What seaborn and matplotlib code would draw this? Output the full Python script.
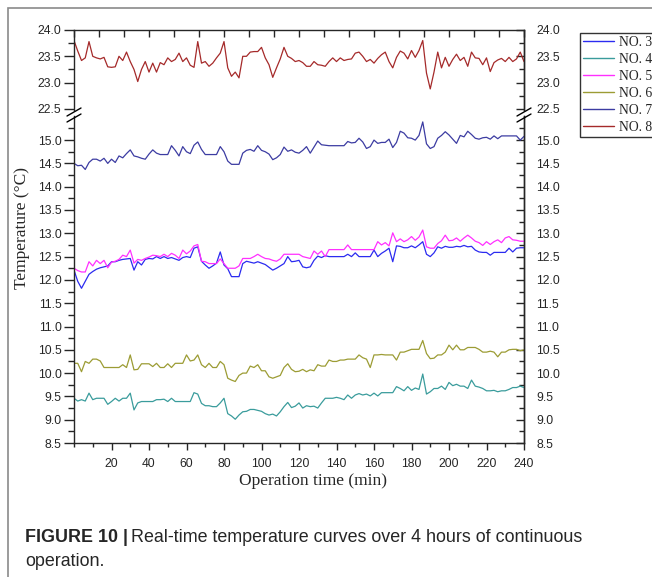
import numpy as np
import pandas as pd
import matplotlib
matplotlib.use('Agg')
import matplotlib.pyplot as plt
import matplotlib.patches as mpatches
from matplotlib.lines import Line2D
from matplotlib.ticker import MultipleLocator, FixedLocator, FormatStrFormatter
import seaborn as sns

# time axis, one reading every 2 min
time_min = np.arange(0, 241, 2)

no3 = [12.21, 11.97, 11.82, 11.97, 12.12, 12.18, 12.23, 12.26, 12.28, 12.30,
       12.39, 12.39, 12.42, 12.44, 12.45, 12.46, 12.21, 12.39, 12.32, 12.44,
       12.46, 12.45, 12.50, 12.46, 12.50, 12.46, 12.48, 12.45, 12.42, 12.48,
       12.50, 12.48, 12.68, 12.71, 12.40, 12.32, 12.25, 12.30, 12.36, 12.60,
       12.32, 12.24, 12.07, 12.07, 12.07, 12.35, 12.40, 12.38, 12.36, 12.39,
       12.36, 12.33, 12.27, 12.21, 12.25, 12.30, 12.35, 12.50, 12.39, 12.40,
       12.42, 12.28, 12.26, 12.28, 12.42, 12.51, 12.48, 12.52, 12.50, 12.50,
       12.50, 12.50, 12.50, 12.55, 12.50, 12.58, 12.50, 12.50, 12.50, 12.50,
       12.64, 12.50, 12.57, 12.62, 12.68, 12.39, 12.73, 12.72, 12.69, 12.69,
       12.73, 12.69, 12.75, 12.82, 12.55, 12.50, 12.58, 12.71, 12.68, 12.72,
       12.70, 12.70, 12.72, 12.71, 12.74, 12.71, 12.72, 12.64, 12.60, 12.59,
       12.59, 12.53, 12.59, 12.59, 12.59, 12.59, 12.68, 12.60, 12.68, 12.69,
       12.69]
no4 = [9.46, 9.40, 9.43, 9.40, 9.57, 9.43, 9.46, 9.46, 9.46, 9.33,
       9.39, 9.46, 9.40, 9.46, 9.46, 9.57, 9.21, 9.36, 9.39, 9.39,
       9.39, 9.39, 9.43, 9.43, 9.44, 9.39, 9.46, 9.39, 9.39, 9.39,
       9.39, 9.39, 9.58, 9.55, 9.35, 9.30, 9.30, 9.28, 9.28, 9.36,
       9.46, 9.13, 9.08, 9.01, 9.10, 9.17, 9.18, 9.22, 9.22, 9.20,
       9.18, 9.13, 9.10, 9.12, 9.08, 9.17, 9.28, 9.37, 9.26, 9.29,
       9.36, 9.25, 9.30, 9.28, 9.29, 9.25, 9.36, 9.46, 9.46, 9.46,
       9.48, 9.46, 9.43, 9.53, 9.46, 9.53, 9.56, 9.53, 9.55, 9.51,
       9.57, 9.51, 9.58, 9.58, 9.58, 9.58, 9.71, 9.67, 9.62, 9.71,
       9.63, 9.68, 9.65, 9.98, 9.55, 9.60, 9.67, 9.67, 9.72, 9.65,
       9.80, 9.73, 9.76, 9.72, 9.72, 9.67, 9.85, 9.72, 9.70, 9.67,
       9.62, 9.62, 9.63, 9.60, 9.62, 9.62, 9.65, 9.69, 9.69, 9.72,
       9.69]
no5 = [12.25, 12.20, 12.17, 12.17, 12.39, 12.30, 12.42, 12.35, 12.42, 12.26,
       12.38, 12.40, 12.44, 12.53, 12.50, 12.64, 12.36, 12.44, 12.42, 12.46,
       12.49, 12.53, 12.52, 12.50, 12.55, 12.50, 12.57, 12.53, 12.46, 12.64,
       12.56, 12.62, 12.73, 12.76, 12.40, 12.39, 12.35, 12.35, 12.35, 12.45,
       12.35, 12.25, 12.25, 12.25, 12.30, 12.46, 12.46, 12.46, 12.50, 12.55,
       12.50, 12.46, 12.45, 12.42, 12.40, 12.45, 12.55, 12.55, 12.55, 12.55,
       12.55, 12.50, 12.48, 12.46, 12.62, 12.55, 12.62, 12.50, 12.65, 12.65,
       12.65, 12.65, 12.65, 12.75, 12.65, 12.65, 12.65, 12.65, 12.65, 12.65,
       12.65, 12.82, 12.75, 12.80, 12.73, 13.01, 12.82, 12.88, 12.82, 12.86,
       12.93, 12.85, 12.92, 13.07, 12.71, 12.68, 12.68, 12.78, 12.84, 12.96,
       12.84, 12.85, 12.90, 12.83, 12.90, 12.96, 12.90, 12.83, 12.80, 12.74,
       12.82, 12.76, 12.82, 12.86, 12.80, 12.90, 12.93, 12.86, 12.85, 12.83,
       12.83]
no6 = [10.21, 10.21, 10.03, 10.25, 10.21, 10.30, 10.30, 10.26, 10.12, 10.12,
       10.12, 10.12, 10.12, 10.18, 10.12, 10.39, 10.07, 10.08, 10.20, 10.20,
       10.20, 10.14, 10.21, 10.12, 10.12, 10.20, 10.12, 10.21, 10.21, 10.21,
       10.39, 10.26, 10.28, 10.39, 10.18, 10.12, 10.21, 10.12, 10.12, 10.25,
       10.18, 9.89, 9.85, 9.82, 9.95, 10.00, 10.00, 10.15, 10.12, 10.18,
       10.05, 10.05, 9.92, 9.89, 9.92, 9.95, 10.12, 10.20, 10.08, 10.03,
       10.04, 10.08, 10.03, 10.07, 10.05, 10.18, 10.15, 10.15, 10.28, 10.25,
       10.25, 10.28, 10.28, 10.30, 10.30, 10.30, 10.39, 10.33, 10.30, 10.12,
       10.39, 10.39, 10.40, 10.39, 10.39, 10.39, 10.28, 10.45, 10.45, 10.48,
       10.51, 10.51, 10.51, 10.70, 10.42, 10.31, 10.32, 10.39, 10.39, 10.45,
       10.60, 10.50, 10.60, 10.50, 10.50, 10.55, 10.55, 10.55, 10.51, 10.45,
       10.45, 10.47, 10.45, 10.35, 10.45, 10.45, 10.50, 10.51, 10.51, 10.48,
       10.50]
no7 = [14.50, 14.45, 14.46, 14.37, 14.52, 14.59, 14.59, 14.55, 14.61, 14.50,
       14.59, 14.52, 14.66, 14.62, 14.71, 14.79, 14.66, 14.64, 14.61, 14.59,
       14.70, 14.79, 14.72, 14.69, 14.69, 14.69, 14.88, 14.78, 14.66, 14.86,
       14.75, 14.71, 14.89, 14.96, 14.80, 14.69, 14.69, 14.69, 14.69, 14.86,
       14.75, 14.55, 14.48, 14.48, 14.48, 14.72, 14.78, 14.80, 14.76, 14.88,
       14.78, 14.75, 14.70, 14.58, 14.62, 14.69, 14.85, 14.76, 14.79, 14.74,
       14.72, 14.78, 14.86, 14.72, 14.85, 14.98, 14.90, 14.89, 14.88, 14.88,
       14.88, 14.88, 14.88, 14.97, 14.94, 14.95, 15.04, 14.96, 14.82, 14.86,
       15.00, 14.93, 14.95, 14.95, 15.02, 14.84, 14.95, 15.19, 15.15, 15.05,
       15.04, 15.00, 15.10, 15.39, 14.92, 14.82, 14.86, 15.04, 15.10, 15.18,
       15.11, 15.02, 14.93, 15.10, 15.07, 15.19, 15.12, 15.04, 15.02, 15.05,
       15.06, 15.02, 15.09, 15.03, 15.09, 15.09, 15.09, 15.09, 15.09, 15.00,
       15.08]
no8 = [23.80, 23.60, 23.42, 23.47, 23.78, 23.50, 23.47, 23.45, 23.48, 23.30,
       23.29, 23.30, 23.50, 23.42, 23.58, 23.40, 23.25, 23.02, 23.25, 23.40,
       23.20, 23.37, 23.20, 23.38, 23.34, 23.47, 23.40, 23.44, 23.56, 23.40,
       23.47, 23.33, 23.29, 23.78, 23.37, 23.40, 23.31, 23.37, 23.47, 23.56,
       23.78, 23.28, 23.12, 23.20, 23.09, 23.50, 23.50, 23.58, 23.59, 23.59,
       23.67, 23.47, 23.34, 23.10, 23.28, 23.45, 23.67, 23.50, 23.46, 23.40,
       23.42, 23.38, 23.31, 23.31, 23.40, 23.34, 23.33, 23.31, 23.40, 23.47,
       23.40, 23.47, 23.42, 23.44, 23.45, 23.56, 23.58, 23.50, 23.40, 23.44,
       23.37, 23.46, 23.53, 23.58, 23.40, 23.28, 23.48, 23.60, 23.56, 23.45,
       23.61, 23.48, 23.61, 23.80, 23.18, 22.88, 23.20, 23.58, 23.28, 23.48,
       23.31, 23.44, 23.54, 23.42, 23.48, 23.31, 23.58, 23.47, 23.46, 23.34,
       23.47, 23.21, 23.38, 23.43, 23.46, 23.40, 23.48, 23.40, 23.45, 23.58,
       23.40]

series_names = ['NO. 3', 'NO. 4', 'NO. 5', 'NO. 6', 'NO. 7', 'NO. 8']
series_values = [no3, no4, no5, no6, no7, no8]
colors = {'NO. 3': '#2b2bf0', 'NO. 4': '#3a9c9c', 'NO. 5': '#ff30ff',
          'NO. 6': '#9c9c34', 'NO. 7': '#3c3ca2', 'NO. 8': '#a52a2a'}

top_ticks = [22.5, 23.0, 23.5, 24.0]
bot_ticks = [8.5, 9.0, 9.5, 10.0, 10.5, 11.0, 11.5, 12.0, 12.5, 13.0, 13.5, 14.0, 14.5, 15.0]
x_ticks = [20, 40, 60, 80, 100, 120, 140, 160, 180, 200, 220, 240]

df = pd.concat([pd.DataFrame({'time': time_min, 'temp': v, 'sensor': n})
                for n, v in zip(series_names, series_values)], ignore_index=True)

sns.set_style('ticks')
plt.rcParams['font.family'] = ['Liberation Sans', 'DejaVu Sans']
plt.rcParams['axes.linewidth'] = 1.0

W, H = 652, 577
fig = plt.figure(figsize=(W / 100, H / 100), dpi=100)
fig.patch.set_facecolor('white')

def fx(px):
    return px / W

def fy(py):
    return 1 - py / H

x0, x1 = 74, 524
ax_top = fig.add_axes([fx(x0), fy(110), fx(x1 - x0), (110 - 30) / H])
ax_bot = fig.add_axes([fx(x0), fy(443), fx(x1 - x0), (443 - 116) / H])

top_df = df[df['sensor'] == 'NO. 8']
bot_df = df[df['sensor'] != 'NO. 8']
sns.lineplot(data=top_df, x='time', y='temp', hue='sensor', palette=colors,
             ax=ax_top, legend=False, linewidth=0.9)
sns.lineplot(data=bot_df, x='time', y='temp', hue='sensor', palette=colors,
             hue_order=series_names[:5], ax=ax_bot, legend=False, linewidth=0.9)


def style_y(ax, major):
    minor = [m + 0.25 for m in major]
    ax.yaxis.set_major_locator(FixedLocator(major))
    ax.yaxis.set_minor_locator(FixedLocator(minor))
    ax.yaxis.set_major_formatter(FormatStrFormatter('%.1f'))
    ax.tick_params(axis='y', which='major', direction='out', length=7, width=1,
                   labelsize=8.7, pad=2, right=False)
    ax.tick_params(axis='y', which='minor', direction='out', length=4, width=1, right=False)
    sec = ax.secondary_yaxis('right')
    sec.yaxis.set_major_locator(FixedLocator(major))
    sec.yaxis.set_minor_locator(FixedLocator(minor))
    sec.yaxis.set_major_formatter(FormatStrFormatter('%.1f'))
    sec.tick_params(axis='y', which='major', direction='in', length=6, width=1,
                    labelsize=8.7, pad=9)
    sec.tick_params(axis='y', which='minor', direction='in', length=3.5, width=1)


for ax in (ax_top, ax_bot):
    ax.set_xlim(0, 240)
    ax.set_xlabel('')
    ax.set_ylabel('')

style_y(ax_top, top_ticks)
style_y(ax_bot, bot_ticks)
ax_top.set_ylim(24 - 80 / 52.6, 24.0)
ax_bot.set_ylim(8.5, 8.5 + 327 / 46.6)

ax_top.spines['bottom'].set_visible(False)
ax_top.set_xticks(np.linspace(0, 240, 19))
ax_top.tick_params(axis='x', which='both', bottom=False, top=True, labelbottom=False,
                   direction='in', length=5, width=1)
ax_top.xaxis.set_minor_locator(matplotlib.ticker.NullLocator())

ax_bot.spines['top'].set_visible(False)
ax_bot.set_xticks(x_ticks)
ax_bot.xaxis.set_minor_locator(MultipleLocator(10))
ax_bot.tick_params(axis='x', which='major', direction='out', length=5, width=1,
                   labelsize=8.7, pad=6, top=False)
ax_bot.tick_params(axis='x', which='minor', direction='out', length=3, width=1, top=False)

# break marks on both spines
for xp in (x0, x1):
    for dy in (0, 6):
        fig.add_artist(Line2D([fx(xp - 7), fx(xp + 7)], [fy(116 + dy), fy(108 + dy)],
                              color='black', lw=1.0))

serif = ['Liberation Serif', 'DejaVu Serif']
fig.text(fx(22), fy(228), 'Temperature (°C)', rotation=90, ha='center', va='center',
         fontsize=12.5, family=serif)
fig.text(fx(313), fy(481), 'Operation time (min)', ha='center', va='center',
         fontsize=12.5, family=serif)

handles = [Line2D([], [], color=colors[n], lw=1.0) for n in series_names]
fig.legend(handles, series_names, loc='upper left', bbox_to_anchor=(fx(580), fy(33)),
           frameon=True, fancybox=False, edgecolor='#333333', framealpha=1,
           prop={'family': serif, 'size': 9.8}, handlelength=2.3, handletextpad=0.35,
           labelspacing=0.3, borderpad=0.2, borderaxespad=0)

# outer frame of the figure panel
fig.add_artist(mpatches.Rectangle((fx(8), -0.1), 2, 1.1 - 8 / H, transform=fig.transFigure,
                                  fill=False, edgecolor='#8a8a8a', lw=1.2))

cap_size = 12.9
t1 = fig.text(fx(25), fy(537), 'FIGURE 10 |', fontsize=cap_size, fontweight='bold',
              va='center', ha='left')
fig.canvas.draw()
bb = t1.get_window_extent()
fig.text(bb.x1 / W + fx(3), fy(537), 'Real-time temperature curves over 4 hours of continuous',
         fontsize=cap_size, va='center', ha='left')
fig.text(fx(25), fy(562), 'operation.', fontsize=cap_size, va='center', ha='left')

fig.savefig('out.png', dpi=100)
